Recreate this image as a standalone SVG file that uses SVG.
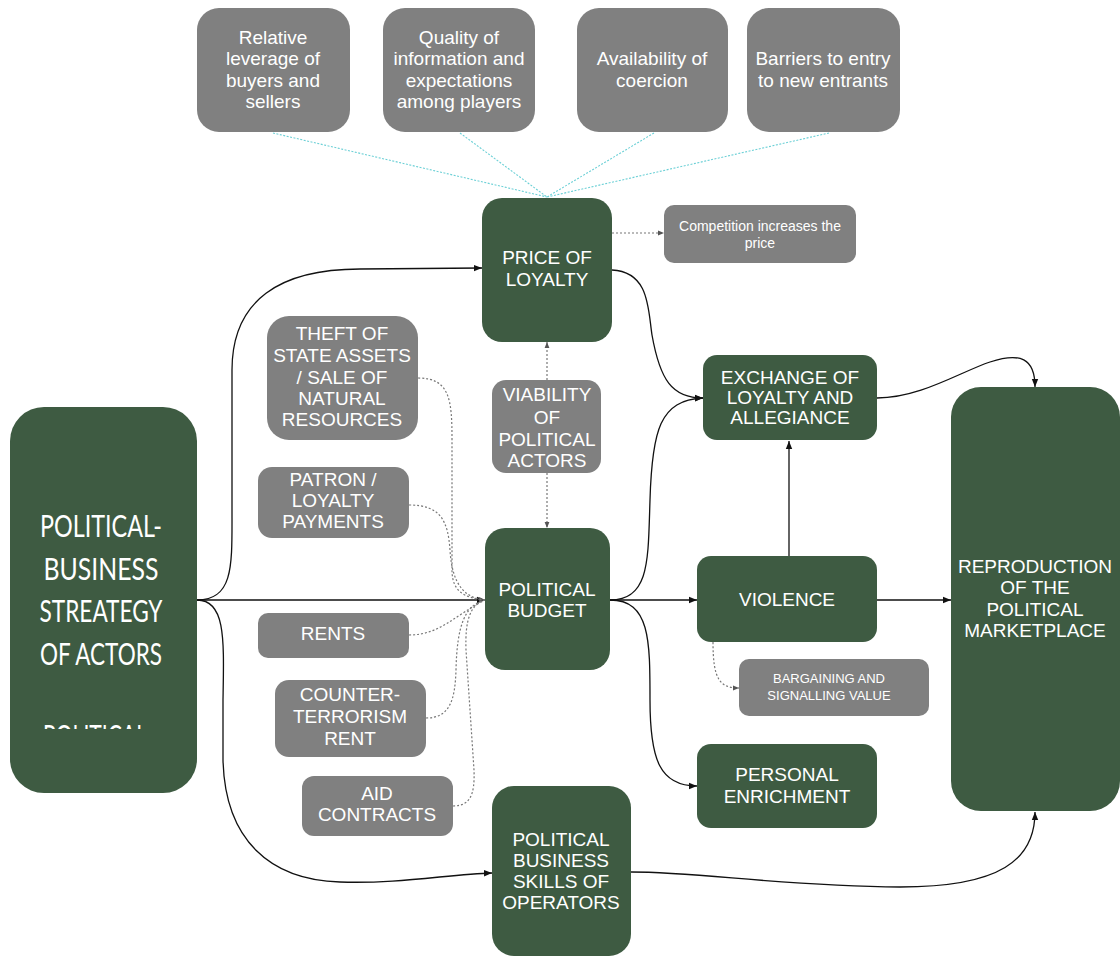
<svg xmlns="http://www.w3.org/2000/svg" width="1120" height="956" viewBox="0 0 1120 956">
<defs>
<style>
.g{fill:#3e5b42}
.k{fill:#808080}
.t{font-family:"Liberation Sans",Arial,sans-serif;fill:#fff;font-size:19px;text-anchor:middle}
.s{font-size:14px}
.c{fill:none;stroke:#111;stroke-width:1.3}
.d{fill:none;stroke:#777;stroke-width:1.2;stroke-dasharray:2 2}
.cy{fill:none;stroke:#6cd0d6;stroke-width:1.1;stroke-dasharray:2 1.5}
.big{font-family:Lato,"Open Sans",sans-serif;fill:#fff;font-size:30px;text-anchor:middle}
</style>
<marker id="a" viewBox="0 0 10 10" refX="10" refY="5" markerWidth="8" markerHeight="8" markerUnits="userSpaceOnUse" orient="auto"><path d="M0,1L10,5L0,9z" fill="#111"/></marker>
<marker id="ad" viewBox="0 0 10 10" refX="10" refY="5" markerWidth="6" markerHeight="6" markerUnits="userSpaceOnUse" orient="auto"><path d="M0,1L10,5L0,9z" fill="#555"/></marker>
<clipPath id="clipPol"><rect x="10" y="700" width="187" height="29"/></clipPath>
</defs>
<rect width="1120" height="956" fill="#fff"/>

<g id="connectors">
<path class="cy" d="M273,133L547,197M460,133L547,197M654,133L547,197M829,133L547,197"/>
<path class="c" d="M197,600L485,600" marker-end="url(#a)"/>
<path class="c" d="M197,600C234,600 232,565 232,510L232,370C232,300 280,269 360,269L482,268" marker-end="url(#a)"/>
<path class="c" d="M197,600C226,600 224,640 223,700L223,760C225,840 270,880 340,882C400,884 450,874 492,873" marker-end="url(#a)"/>
<path class="c" d="M612,270C650,272 648,310 652,335C660,380 672,398 703,398" marker-end="url(#a)"/>
<path class="c" d="M610,600C650,600 648,560 650,500C652,430 660,400 703,398" marker-end="url(#a)"/>
<path class="c" d="M610,600L697,600" marker-end="url(#a)"/>
<path class="c" d="M610,600C650,600 650,640 650,700C650,760 660,786 697,786" marker-end="url(#a)"/>
<path class="c" d="M789,556L789,441" marker-end="url(#a)"/>
<path class="c" d="M877,600L951,600" marker-end="url(#a)"/>
<path class="c" d="M877,398C920,398 960,372 990,362C1020,352 1035,358 1035,387" marker-end="url(#a)"/>
<path class="c" d="M631,872C700,872 780,886 900,887C1000,887 1035,860 1035,812" marker-end="url(#a)"/>
<path class="d" d="M612,233L664,233" marker-end="url(#ad)"/>
<path class="d" d="M547,380L547,342" marker-end="url(#ad)"/>
<path class="d" d="M547,473L547,528" marker-end="url(#ad)"/>
<path class="d" d="M713,642C713,680 720,688 739,688" marker-end="url(#ad)"/>
<path class="d" d="M418,378C450,378 452,400 452,440L452,570C452,592 465,598 485,600" marker-end="url(#ad)"/>
<path class="d" d="M409,505C440,505 448,520 450,550C452,585 465,598 485,600"/>
<path class="d" d="M409,635C440,635 455,615 485,600"/>
<path class="d" d="M426,718C450,718 455,700 456,670C457,625 465,605 485,600"/>
<path class="d" d="M453,806C470,806 475,795 474,770L466,650C465,620 470,605 485,600"/>
</g>

<g id="top1"><rect class="k" x="197" y="8" width="153" height="124" rx="22"/><text class="t"><tspan x="273" y="44">Relative</tspan><tspan x="273" y="65">leverage of</tspan><tspan x="273" y="87">buyers and</tspan><tspan x="273" y="108">sellers</tspan></text></g>
<g id="top2"><rect class="k" x="383" y="8" width="152" height="124" rx="22"/><text class="t"><tspan x="459" y="44">Quality of</tspan><tspan x="459" y="65">information and</tspan><tspan x="459" y="87">expectations</tspan><tspan x="459" y="108">among players</tspan></text></g>
<g id="top3"><rect class="k" x="577" y="8" width="151" height="124" rx="22"/><text class="t"><tspan x="652" y="65">Availability of</tspan><tspan x="652" y="87">coercion</tspan></text></g>
<g id="top4"><rect class="k" x="747" y="8" width="153" height="124" rx="22"/><text class="t"><tspan x="823" y="65">Barriers to entry</tspan><tspan x="823" y="87">to new entrants</tspan></text></g>

<g id="price"><rect class="g" x="482" y="198" width="130" height="144" rx="20"/><text class="t"><tspan x="547" y="264">PRICE OF</tspan><tspan x="547" y="286">LOYALTY</tspan></text></g>
<g id="competition"><rect class="k" x="664" y="205" width="192" height="58" rx="10"/><text class="t s"><tspan x="760" y="231">Competition increases the</tspan><tspan x="760" y="248">price</tspan></text></g>
<g id="viability"><rect class="k" x="492" y="380" width="109" height="93" rx="14"/><text class="t"><tspan x="547" y="401">VIABILITY</tspan><tspan x="547" y="424">OF</tspan><tspan x="547" y="446">POLITICAL</tspan><tspan x="547" y="467">ACTORS</tspan></text></g>
<g id="budget"><rect class="g" x="485" y="528" width="125" height="142" rx="20"/><text class="t"><tspan x="547" y="596">POLITICAL</tspan><tspan x="547" y="617">BUDGET</tspan></text></g>
<g id="exchange"><rect class="g" x="703" y="355" width="174" height="85" rx="14"/><text class="t"><tspan x="790" y="384">EXCHANGE OF</tspan><tspan x="790" y="404">LOYALTY AND</tspan><tspan x="790" y="424">ALLEGIANCE</tspan></text></g>
<g id="violence"><rect class="g" x="697" y="556" width="180" height="86" rx="14"/><text class="t"><tspan x="787" y="606">VIOLENCE</tspan></text></g>
<g id="bargaining"><rect class="k" x="739" y="659" width="190" height="57" rx="10"/><text class="t" style="font-size:13px"><tspan x="829" y="683">BARGAINING AND</tspan><tspan x="829" y="700">SIGNALLING VALUE</tspan></text></g>
<g id="enrichment"><rect class="g" x="697" y="744" width="180" height="84" rx="14"/><text class="t"><tspan x="787" y="781">PERSONAL</tspan><tspan x="787" y="803">ENRICHMENT</tspan></text></g>
<g id="reproduction"><rect class="g" x="951" y="387" width="169" height="424" rx="30"/><text class="t"><tspan x="1035" y="573">REPRODUCTION</tspan><tspan x="1035" y="594">OF THE</tspan><tspan x="1035" y="616">POLITICAL</tspan><tspan x="1035" y="637">MARKETPLACE</tspan></text></g>
<g id="skills"><rect class="g" x="492" y="786" width="139" height="170" rx="22"/><text class="t"><tspan x="561" y="846">POLITICAL</tspan><tspan x="561" y="867">BUSINESS</tspan><tspan x="561" y="888">SKILLS OF</tspan><tspan x="561" y="909">OPERATORS</tspan></text></g>

<g id="theft"><rect class="k" x="267" y="316" width="151" height="124" rx="22"/><text class="t"><tspan x="342" y="340">THEFT OF</tspan><tspan x="342" y="362">STATE ASSETS</tspan><tspan x="342" y="384">/ SALE OF</tspan><tspan x="342" y="405">NATURAL</tspan><tspan x="342" y="426">RESOURCES</tspan></text></g>
<g id="patron"><rect class="k" x="258" y="467" width="151" height="71" rx="14"/><text class="t"><tspan x="333" y="486">PATRON /</tspan><tspan x="333" y="507">LOYALTY</tspan><tspan x="333" y="528">PAYMENTS</tspan></text></g>
<g id="rents"><rect class="k" x="258" y="613" width="151" height="45" rx="10"/><text class="t"><tspan x="333" y="640">RENTS</tspan></text></g>
<g id="counter"><rect class="k" x="275" y="680" width="151" height="77" rx="14"/><text class="t"><tspan x="350" y="701">COUNTER-</tspan><tspan x="350" y="723">TERRORISM</tspan><tspan x="350" y="745">RENT</tspan></text></g>
<g id="aid"><rect class="k" x="302" y="776" width="151" height="60" rx="12"/><text class="t"><tspan x="377" y="800">AID</tspan><tspan x="377" y="821">CONTRACTS</tspan></text></g>

<g id="strategy"><rect class="g" x="10" y="407" width="187" height="386" rx="34"/>
<text class="big"><tspan x="101" y="537" textLength="122" lengthAdjust="spacingAndGlyphs">POLITICAL-</tspan><tspan x="101" y="580" textLength="115" lengthAdjust="spacingAndGlyphs">BUSINESS</tspan><tspan x="101" y="622" textLength="123" lengthAdjust="spacingAndGlyphs">STREATEGY</tspan><tspan x="101" y="665" textLength="122" lengthAdjust="spacingAndGlyphs">OF ACTORS</tspan></text>
<text class="big" clip-path="url(#clipPol)" x="95" y="747" textLength="104" lengthAdjust="spacingAndGlyphs">POLITICAL</text>
</g>
</svg>
